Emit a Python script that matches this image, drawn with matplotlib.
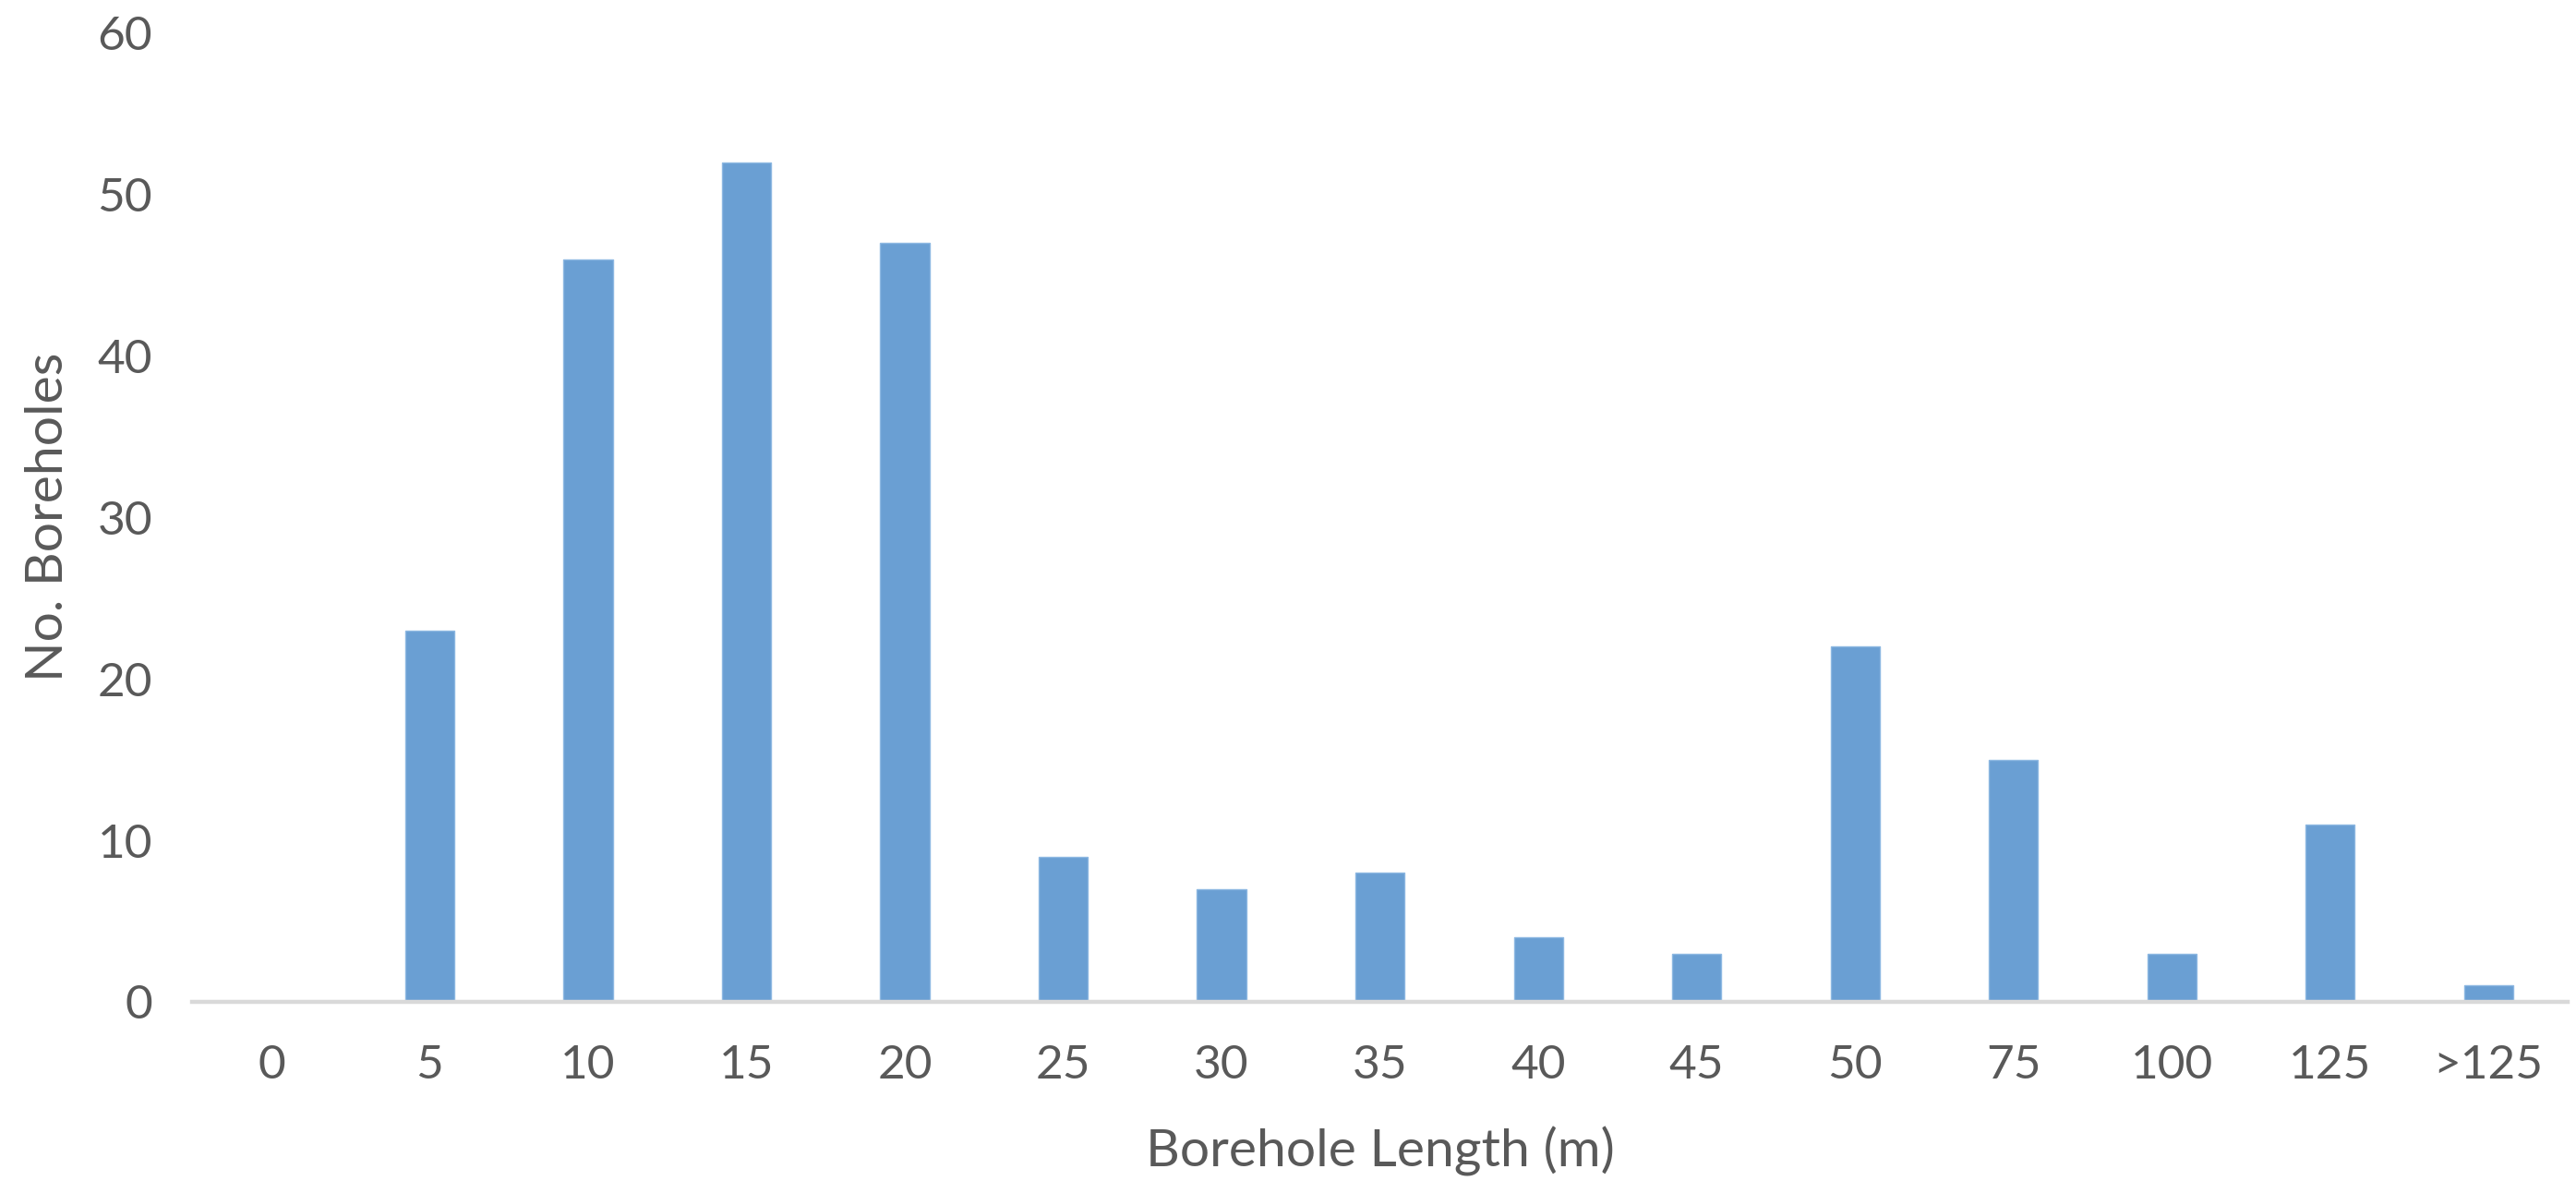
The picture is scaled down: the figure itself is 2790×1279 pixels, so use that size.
import matplotlib
matplotlib.use("Agg")
import matplotlib.pyplot as plt

categories = ["0", "5", "10", "15", "20", "25", "30", "35", "40", "45", "50", "75", "100", "125", ">125"]
counts = [0, 23, 46, 52, 47, 9, 7, 8, 4, 3, 22, 15, 3, 11, 1]
yticks = [0, 10, 20, 30, 40, 50, 60]

plt.rcParams['font.family'] = ['Lato', 'DejaVu Sans']
text_color = "#595959"

fig = plt.figure(figsize=(27.9, 12.79), dpi=100)
ax_rect = [0.0746, 0.1517, 0.9222, 0.8202]
ax = fig.add_axes(ax_rect)

x = list(range(len(categories)))
ax.bar(x, counts, width=0.31, color="#6A9FD3", edgecolor="#8DB8E2", linewidth=1.0, zorder=2)

ax.set_xlim(-0.5, len(categories) - 0.5)
ax.set_ylim(0, 60)
ax.set_yticks(yticks)
ax.set_xticks(x)
ax.set_xticklabels(categories)

for s in ["top", "right", "left"]:
    ax.spines[s].set_visible(False)
ax.spines["bottom"].set_color("#D9D9D9")
ax.spines["bottom"].set_linewidth(3.2)
ax.spines["bottom"].set_zorder(3)

ax.tick_params(axis="both", length=0, labelsize=37, labelcolor=text_color)
ax.tick_params(axis="y", pad=31)
ax.tick_params(axis="x", pad=33)

fig.text(ax_rect[0] + ax_rect[2] / 2, 1 - 1247 / 1279, "Borehole Length (m)", ha="center", va="center",
         fontsize=41, color=text_color)
fig.text(53 / 2790, 1 - 560 / 1279, "No. Boreholes", ha="center", va="center",
         rotation=90, fontsize=41, color=text_color)

fig.savefig("out.png", dpi=100, facecolor="white")
